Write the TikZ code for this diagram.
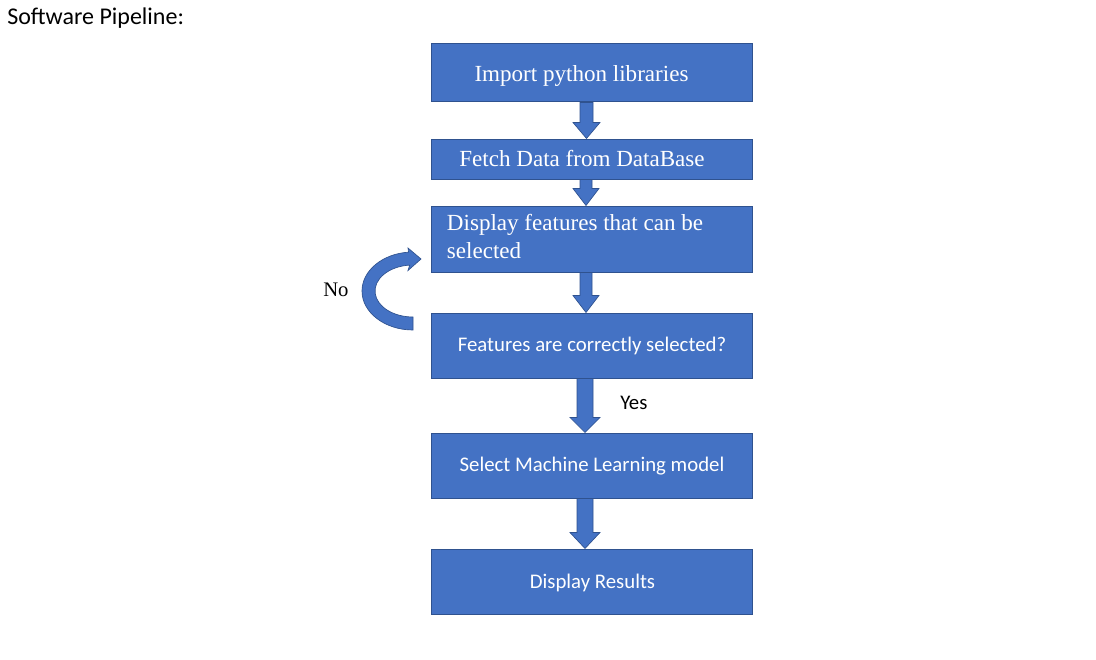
\documentclass[tikz,border=0pt]{standalone}
\usepackage{fontspec}
\setmainfont{Liberation Serif}
\newfontfamily\calibri{Carlito}
\usetikzlibrary{calc}
\definecolor{boxblue}{HTML}{4472C4}
\definecolor{boxline}{HTML}{2F528F}
\tikzset{
  box/.style={draw=boxline, fill=boxblue, line width=0.75pt, minimum width=240.75pt, inner sep=0pt},
  arr/.style={draw=boxline, fill=boxblue, line width=0.5pt},
  serifwhite/.style={text=white, font=\fontsize{17.3}{21}\selectfont, inner sep=0pt},
  caliwhite/.style={text=white, font=\calibri\fontsize{15.6}{19}\selectfont, inner sep=0pt},
  caliblack/.style={text=black, font=\calibri\fontsize{15.6}{19}\selectfont, inner sep=0pt},
}
\newcommand\blockarrow[6]{%
  \filldraw[arr] ($(#3 |- #1.south)+(-#4,0)$) -- ($(#3 |- #2.north)+(-#4,-#6)$) -- ($(#3 |- #2.north)+(-#5,-#6)$) -- (#3 |- #2.north) -- ($(#3 |- #2.north)+(#5,-#6)$) -- ($(#3 |- #2.north)+(#4,-#6)$) -- ($(#3 |- #1.south)+(#4,0)$) -- cycle;}
\begin{document}
\begin{tikzpicture}[x=0.75pt,y=-0.75pt]
\fill[white] (0,0) rectangle (1096,660);
\useasboundingbox (0,0) rectangle (1096,660);

\node[anchor=base west, inner sep=0pt, font=\calibri\fontsize{18}{22}\selectfont] (title) at (7,25) {Software Pipeline:};

\node[box, minimum height=43.5pt] (b1) at (591.5,73) {};
\node[box, minimum height=30pt] (b2) at (591.5,159) {};
\node[box, minimum height=49.5pt] (b3) at (591.5,239) {};
\node[box, minimum height=48.75pt] (b4) at (591.5,345.5) {};
\node[box, minimum height=48.75pt] (b5) at (591.5,465.5) {};
\node[box, minimum height=48.75pt] (b6) at (591.5,581.5) {};

\node[serifwhite, anchor=base] (t1) at (581.5,81.7) {Import python libraries};
\node[serifwhite, anchor=base] (t2) at (582,166.7) {Fetch Data from DataBase};
\node[serifwhite, anchor=north west, align=left] (t3) at (446.7,214.2) {Display features that can be\\selected};
\node[caliwhite, anchor=base] (t4) at (592,351.7) {Features are correctly selected?};
\node[caliwhite, anchor=base] (t5) at (592,471.7) {Select Machine Learning model};
\node[caliwhite, anchor=base] (t6) at (592.5,588.3) {Display Results};

\node[caliblack, anchor=base west] (yes) at (620,409.3) {Yes};
\node[anchor=base west, inner sep=0pt, font=\fontsize{15.5}{19}\selectfont] (no) at (323,296.7) {No};

\coordinate (colA) at (586.5,0);
\coordinate (colB) at (586,0);
\coordinate (colC) at (585,0);
\blockarrow{b1}{b2}{colA}{6.5}{13.5}{16}
\blockarrow{b2}{b3}{colB}{6}{13}{17}
\blockarrow{b3}{b4}{colB}{6}{13}{17}
\blockarrow{b4}{b5}{colC}{8}{15}{15}
\blockarrow{b5}{b6}{colC}{8}{15}{16}

\coordinate (loopc) at (413,291);
\filldraw[arr] ($(loopc)+(0,39)$) arc[start angle=90, end angle=265, x radius=51, y radius=39]
  -- (408,248) -- (421,259) -- (408,270.5) -- (409.7,265.1)
  arc[start angle=265, end angle=90, x radius=38, y radius=26] -- cycle;
\end{tikzpicture}
\end{document}
